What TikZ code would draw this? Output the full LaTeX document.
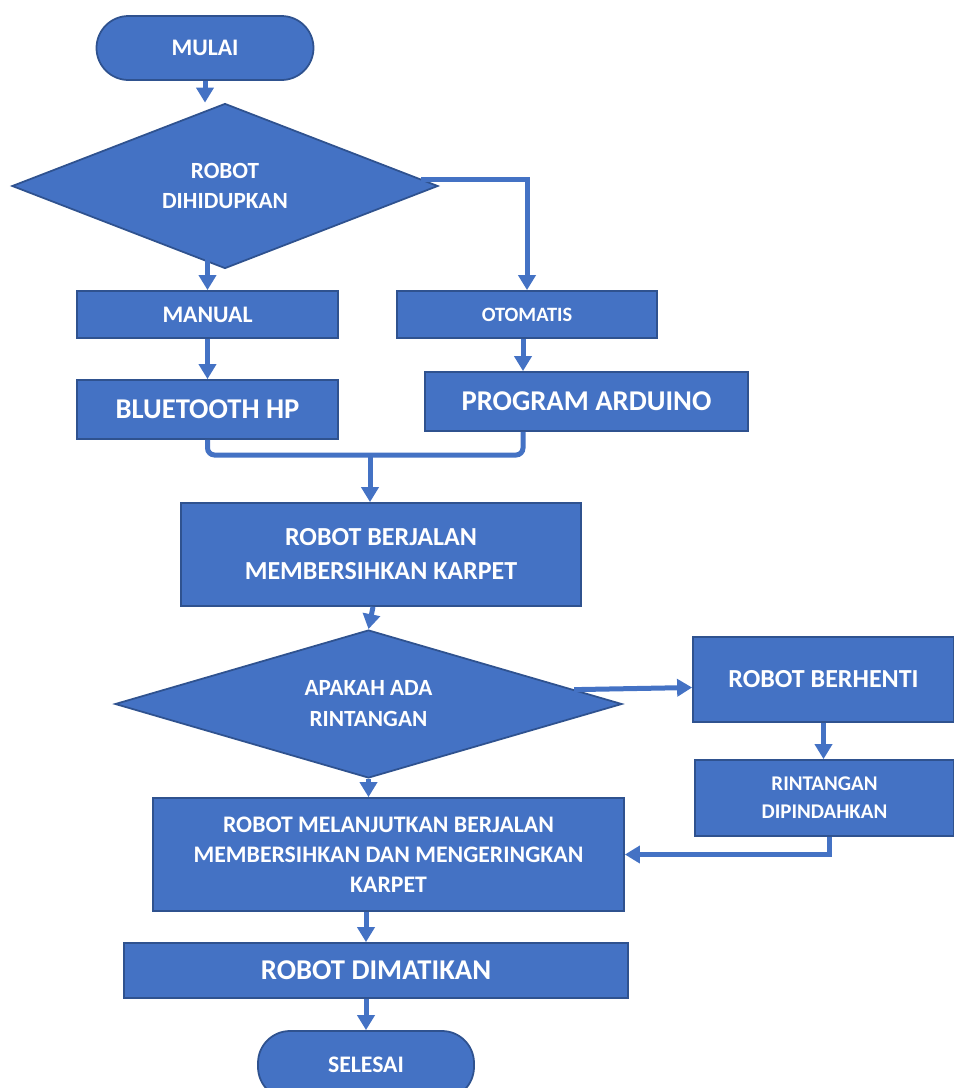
\documentclass[tikz,border=0pt]{standalone}
\usepackage{fontspec}
\setmainfont{Carlito}
\usepackage{tikz}
\usetikzlibrary{shapes,shapes.geometric,arrows,arrows.meta}
\definecolor{bfill}{HTML}{4472C4}
\definecolor{bline}{HTML}{2F528F}
\tikzstyle{block} = [rectangle, draw=bline, fill=bfill, line width=1pt, text=white, align=center, inner sep=0pt, font=\bfseries\fontsize{13.5}{17.2}\selectfont]
\tikzstyle{decision} = [diamond, draw=bline, fill=bfill, line width=1pt, text=white, align=center, inner sep=0pt, font=\bfseries\fontsize{13.2}{17.6}\selectfont]
\tikzstyle{terminal} = [block, rounded corners=0.64cm]
\tikzstyle{bigtext} = [font=\bfseries\fontsize{16.3}{20}\selectfont]
\tikzstyle{midtext} = [font=\bfseries\fontsize{14.8}{19.3}\selectfont]
\tikzstyle{arrow} = [draw=bfill, line width=0.1cm, -{Triangle[width=0.34cm, length=0.3cm]}]
\tikzstyle{line} = [draw=bfill, line width=0.1cm, rounded corners=4pt]

\begin{document}
\begin{tikzpicture}
\useasboundingbox (0,0) rectangle (19.08,-21.76);

%% start
\node[terminal, minimum width=4.34cm, minimum height=1.28cm] at (4.1, -0.96) (mulai) {\raisebox{-2pt}{MULAI}};
\node[decision, aspect=2.57, minimum width=8.52cm, minimum height=3.3cm] at (4.5, -3.72) (hidup) {ROBOT\\DIHIDUPKAN};
\path[arrow] (mulai.south) -- (mulai.south |- hidup.north);

%% manual / otomatis
\node[block, minimum width=5.22cm, minimum height=0.94cm] at (4.15, -6.29) (manual) {MANUAL};
\node[block, minimum width=5.2cm, minimum height=0.94cm, font=\bfseries\fontsize{11.6}{14}\selectfont] at (10.54, -6.29) (otomatis) {OTOMATIS};
\path[arrow] (manual.north |- hidup.south) ++(0,0.2) -- (manual.north);
\path[arrow] (hidup.2) -| (otomatis.north);

\node[block, bigtext, minimum width=5.22cm, minimum height=1.18cm] at (4.15, -8.19) (bluetooth) {BLUETOOTH HP};
\node[block, bigtext, minimum width=6.46cm, minimum height=1.18cm] at (11.73, -8.03) (arduino) {PROGRAM ARDUINO};
\path[arrow] (manual.south) -- (bluetooth.north);
\path[arrow] ([xshift=-0.08cm]otomatis.south) -- ([xshift=-0.08cm]otomatis.south |- arduino.north);

% joining both modes
\coordinate (gabung) at (7.4, -9.1);
\path[line] (bluetooth.south) |- (gabung) -| ([xshift=-0.08cm]otomatis.south |- arduino.south);

\node[block, midtext, minimum width=8cm, minimum height=2.06cm] at (7.62, -11.09) (berjalan) {ROBOT BERJALAN\\MEMBERSIHKAN KARPET};
\path[arrow] (gabung) -- (gabung |- berjalan.north);

%% obstacle check
\node[decision, aspect=3.43, minimum width=10.14cm, minimum height=2.96cm] at (7.37, -14.08) (rintangan) {APAKAH ADA\\RINTANGAN};
\path[arrow] ([xshift=-0.16cm]berjalan.south) -- (rintangan.north);

\node[block, midtext, minimum width=5.22cm, minimum height=1.7cm] at (16.47, -13.59) (berhenti) {ROBOT BERHENTI};
\path[arrow] (rintangan.4) -- ([yshift=-0.16cm]berhenti.west);

\node[block, font=\bfseries\fontsize{11.9}{16}\selectfont, minimum width=5.18cm, minimum height=1.52cm] at (16.49, -15.96) (pindah) {RINTANGAN\\DIPINDAHKAN};
\path[arrow] (berhenti.south) -- (berhenti.south |- pindah.north);

\node[block, minimum width=9.42cm, minimum height=2.26cm] at (7.77, -17.09) (lanjut) {ROBOT MELANJUTKAN BERJALAN\\MEMBERSIHKAN DAN MENGERINGKAN\\KARPET};
\path[arrow] (rintangan.south) -- (rintangan.south |- lanjut.north);
\path[arrow] ([xshift=0.1cm]pindah.south) |- (lanjut.east);

%% finish
\node[block, bigtext, minimum width=10.08cm, minimum height=1.1cm] at (7.52, -19.41) (mati) {ROBOT DIMATIKAN};
\node[terminal, minimum width=4.32cm, minimum height=1.36cm] at (7.32, -21.3) (selesai) {SELESAI};
\path[arrow] (selesai.north |- lanjut.south) -- (selesai.north |- mati.north);
\path[arrow] (selesai.north |- mati.south) -- (selesai.north);
\end{tikzpicture}
\end{document}
